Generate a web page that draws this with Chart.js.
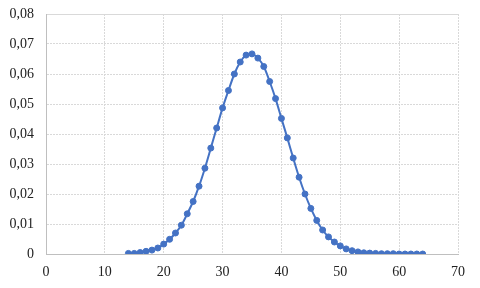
<!DOCTYPE html>
<html>
<head>
  <meta charset="UTF-8">
  <title>Chart</title>
  <style>
    html, body { margin: 0; padding: 0; background: #fff; }
    #wrap { width: 480px; height: 288px; }
  </style>
</head>
<body>
  <div id="wrap"><canvas id="mychart" width="480" height="288"></canvas></div>
  <script src="https://cdn.jsdelivr.net/npm/chart.js"></script>
  <script>
    // x values 14..64, y
    const xVals = [14, 15, 16, 17, 18, 19, 20, 21, 22, 23, 24, 25, 26, 27, 28, 29, 30,
      31, 32, 33, 34, 35, 36, 37, 38, 39, 40, 41, 42, 43, 44, 45, 46, 47, 48, 49, 50,
      51, 52, 53, 54, 55, 56, 57, 58, 59, 60, 61, 62, 63, 64]
    const yVals = [0.0002, 0.0002, 0.0005, 0.0009, 0.0013, 0.0020, 0.0033, 0.0049, 0.0070, 0.0096,
      0.0134, 0.0175, 0.0226, 0.0286, 0.0353, 0.0420, 0.0487, 0.0545, 0.0600, 0.0640,
      0.0663, 0.0667, 0.0653, 0.0625, 0.0575, 0.0518, 0.0452, 0.0387, 0.0320, 0.0256,
      0.0200, 0.0152, 0.0112, 0.0080, 0.0057, 0.0040, 0.0027, 0.0017, 0.0011, 0.0007,
      0.0004, 0.0003, 0.0002, 0.0001, 0.0001, 0.0001, 0.0000, 0.0000, 0.0000, 0.0000, 0.0000]

    const xTicks = [0, 10, 20, 30, 40, 50, 60, 70]
    const yTicks = [0, 0.01, 0.02, 0.03, 0.04, 0.05, 0.06, 0.07, 0.08]

    const points = xVals.map((x, i) => ({ x: x, y: yVals[i] }))
    const blue = '#4472C4'
    const font = { family: "'Liberation Serif', 'Times New Roman', serif", size: 14 }

    new Chart(document.getElementById('mychart'), {
      type: 'line',
      data: {
        datasets: [{
          data: points,
          borderColor: blue,
          backgroundColor: blue,
          borderWidth: 2,
          pointRadius: 3,
          pointBorderWidth: 1,
          pointBackgroundColor: blue,
          pointBorderColor: blue,
          tension: 0.3
        }]
      },
      options: {
        responsive: false,
        animation: false,
        layout: { padding: { left: 0, right: 22, top: 0, bottom: 0 } },
        plugins: { legend: { display: false }, tooltip: { enabled: false } },
        scales: {
          x: {
            type: 'linear',
            min: 0, max: 70,
            afterBuildTicks: s => { s.ticks = xTicks.map(v => ({ value: v })) },
            afterFit: s => { s.height = 34 },
            ticks: { color: '#222', font: font, padding: 10, maxRotation: 0 },
            grid: { color: '#d9d9d9', lineWidth: 1, drawTicks: false },
            border: { color: '#bfbfbf', width: 1, dash: [2, 1] }
          },
          y: {
            min: 0, max: 0.08,
            afterBuildTicks: s => { s.ticks = yTicks.map(v => ({ value: v })) },
            afterFit: s => { s.width = 46; s.paddingTop = 14; s.paddingBottom = 0 },
            ticks: {
              color: '#222', font: font, padding: 12,
              callback: v => v === 0 ? '0' : v.toFixed(2).replace('.', ',')
            },
            grid: { color: '#d9d9d9', lineWidth: 1, drawTicks: false },
            border: {
              color: '#bfbfbf', width: 1,
              dash: ctx => (ctx.tick && ctx.tick.value >= 0.08) ? [] : [2, 1]
            }
          }
        }
      }
    })
  </script>
</body>
</html>
